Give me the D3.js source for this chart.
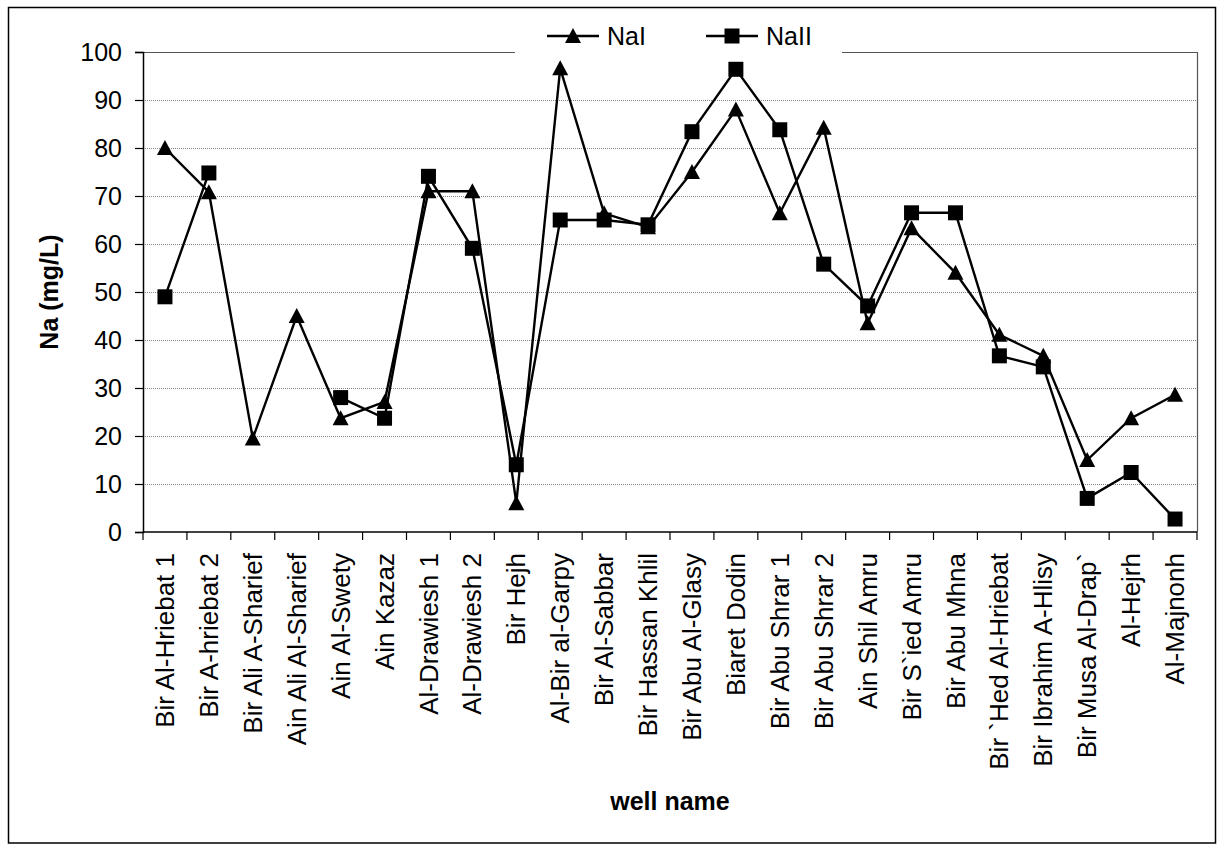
<!DOCTYPE html>
<html>
<head>
<meta charset="utf-8">
<script src="https://cdn.jsdelivr.net/npm/d3@7"></script>
<style>
  html, body { margin: 0; padding: 0; background: #fff; }
  svg { display: block; font-family: "Liberation Sans", Arial, sans-serif; }
</style>
</head>
<body>
<svg id="chart" width="1219" height="845"></svg>
<script>
// Well names along the x axis
const wells = [
  "Bir Al-Hriebat 1", "Bir A-hriebat 2", "Bir Ali A-Sharief", "Ain Ali Al-Sharief",
  "Ain Al-Swety", "Ain Kazaz", "Al-Drawiesh 1", "Al-Drawiesh 2", "Bir Hejh",
  "Al-Bir al-Garpy", "Bir Al-Sabbar", "Bir Hassan Khlil", "Bir Abu Al-Glasy",
  "Biaret Dodin", "Bir Abu Shrar 1", "Bir Abu Shrar 2", "Ain Shil Amru",
  "Bir S`ied Amru", "Bir Abu Mhna", "Bir `Hed Al-Hriebat", "Bir Ibrahim A-Hlisy",
  "Bir Musa Al-Drap`", "Al-Hejrh", "Al-Majnonh"
];

// Sodium concentration (mg/L), two sampling campaigns
const naI = [80, 70.8, 19.5, 45, 23.7, 27.1, 71, 71, 6, 96.6, 66.4, 63.5,
             75, 88, 66.4, 84.2, 43.5, 63.3, 54, 41.1, 36.7, 15, 23.7, 28.6];
const naII = [49, 74.8, null, null, 28, 23.7, 74.1, 59.1, 14, 65, 65, 64,
              83.4, 96.4, 83.8, 55.8, 47.1, 66.5, 66.5, 36.7, 34.4, 7, 12.4, 2.7];

const yTicks = [0, 10, 20, 30, 40, 50, 60, 70, 80, 90, 100];

const seriesNames = ["NaI", "NaII"];

const svg = d3.select("#chart");
const plot = { left: 143, right: 1197, top: 52, bottom: 532 };

// outer chart frame
svg.append("rect")
  .attr("x", 8.5).attr("y", 7.5)
  .attr("width", 1207).attr("height", 835.5)
  .attr("fill", "#fff").attr("stroke", "#000").attr("stroke-width", 1.5);

const x = d3.scaleBand().domain(wells).range([plot.left, plot.right]);
const y = d3.scaleLinear().domain([0, 100]).range([plot.bottom, plot.top]);

// horizontal gridlines
svg.append("g")
  .selectAll("line")
  .data(yTicks.filter(t => t > 0 && t < 100))
  .join("line")
  .attr("x1", plot.left).attr("x2", plot.right)
  .attr("y1", d => y(d) + 0.5).attr("y2", d => y(d) + 0.5)
  .attr("stroke", "#808080").attr("stroke-width", 1)
  .attr("stroke-dasharray", "1,1");

// plot area border (top and right)
svg.append("path")
  .attr("d", `M${plot.left},${plot.top + 0.5}H${plot.right + 0.5}V${plot.bottom}`)
  .attr("fill", "none").attr("stroke", "#555").attr("stroke-width", 1.2);

// y axis
const yAxis = d3.axisLeft(y).tickValues(yTicks).tickSize(8).tickPadding(13);
const gy = svg.append("g")
  .attr("transform", `translate(${plot.left},0)`)
  .call(yAxis);
gy.select(".domain").attr("stroke", "#000").attr("stroke-width", 1.5);
gy.selectAll(".tick line").attr("stroke", "#000").attr("stroke-width", 1.2);
gy.selectAll(".tick text")
  .attr("font-size", 25).attr("fill", "#000")
  .attr("font-family", "'Liberation Sans', Arial, sans-serif");

// x axis with ticks on category boundaries
const gx = svg.append("g")
  .attr("transform", `translate(0,${plot.bottom})`);
gx.append("line")
  .attr("x1", plot.left).attr("x2", plot.right)
  .attr("y1", 0).attr("y2", 0)
  .attr("stroke", "#000").attr("stroke-width", 1.5);
const boundaries = wells.map(w => x(w)).concat([plot.right]);
gx.selectAll("line.tick")
  .data(boundaries)
  .join("line")
  .attr("class", "tick")
  .attr("x1", d => d).attr("x2", d => d)
  .attr("y1", 0).attr("y2", 8)
  .attr("stroke", "#000").attr("stroke-width", 1.2);
gx.selectAll("text")
  .data(wells)
  .join("text")
  .attr("transform", d => `translate(${x(d) + x.bandwidth() / 2},21) rotate(-90)`)
  .attr("text-anchor", "end")
  .attr("dy", "0.35em")
  .attr("font-size", 26)
  .attr("fill", "#000")
  .text(d => d);

// axis titles
svg.append("text")
  .attr("transform", `translate(58,${(plot.top + plot.bottom) / 2}) rotate(-90)`)
  .attr("text-anchor", "middle")
  .attr("font-size", 25).attr("font-weight", "bold")
  .text("Na (mg/L)");

svg.append("text")
  .attr("x", (plot.left + plot.right) / 2).attr("y", 810)
  .attr("text-anchor", "middle")
  .attr("font-size", 25).attr("font-weight", "bold")
  .text("well name");

// marker shapes
function triangle(cx, cy) {
  return `M${cx},${cy - 8}L${cx + 8},${cy + 7}L${cx - 8},${cy + 7}Z`;
}
function square(cx, cy) {
  return `M${cx - 7.5},${cy - 7.5}h15v15h-15Z`;
}
const markers = { NaI: triangle, NaII: square };

const cx = d => x(d) + x.bandwidth() / 2;
const series = [
  { name: "NaI", values: naI },
  { name: "NaII", values: naII }
];

const line = d3.line()
  .defined(d => d.v != null)
  .x(d => cx(d.w))
  .y(d => y(d.v));

series.forEach(s => {
  const pts = wells.map((w, i) => ({ w, v: s.values[i] }));
  svg.append("path")
    .datum(pts)
    .attr("d", line)
    .attr("fill", "none")
    .attr("stroke", "#000")
    .attr("stroke-width", 2.4)
    .attr("stroke-linejoin", "miter");
  svg.append("g")
    .selectAll("path")
    .data(pts.filter(p => p.v != null))
    .join("path")
    .attr("d", p => markers[s.name](cx(p.w), y(p.v)))
    .attr("fill", "#000");
});

// legend, sitting over the top edge of the plot area
const lg = svg.append("g");
lg.append("rect")
  .attr("x", 515).attr("y", 18).attr("width", 327).attr("height", 40)
  .attr("fill", "#fff");
const legendItems = [
  { name: seriesNames[0], x0: 547 },
  { name: seriesNames[1], x0: 706 }
];
legendItems.forEach(it => {
  const ly = 36;
  lg.append("line")
    .attr("x1", it.x0).attr("x2", it.x0 + 52)
    .attr("y1", ly).attr("y2", ly)
    .attr("stroke", "#000").attr("stroke-width", 2.4);
  lg.append("path")
    .attr("d", markers[it.name](it.x0 + 26, ly))
    .attr("fill", "#000");
  lg.append("text")
    .attr("x", it.x0 + 60).attr("y", ly)
    .attr("dy", "0.35em")
    .attr("font-size", 25)
    .text(it.name);
});
</script>
</body>
</html>
